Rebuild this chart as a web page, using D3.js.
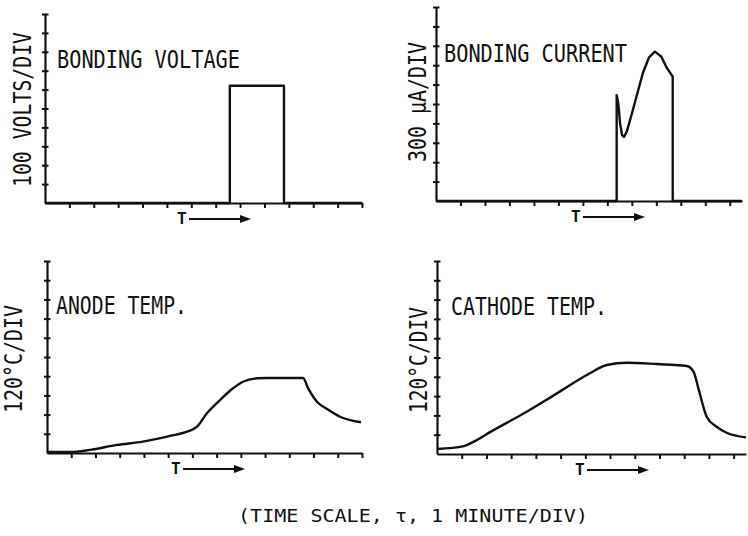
<!DOCTYPE html>
<html>
<head>
<meta charset="utf-8">
<script src="https://cdn.jsdelivr.net/npm/d3@7"></script>
<style>
  body { margin: 0; background: #fff; }
  svg text { font-family: "DejaVu Sans Mono", monospace; fill: #111; }
</style>
</head>
<body>
<svg id="chart" width="748" height="536"></svg>
<script>
// time in divisions (1 minute/div), signal in vertical divisions
const voltageT = [0, 7.58, 7.58, 9.8, 9.8, 13];
const voltageV = [0, 0, 6.2, 6.2, 0, 0];

const currentT = [0, 7.38, 7.38, 7.45, 7.52, 7.6, 7.68, 7.8, 8.0, 8.45, 8.7, 8.94, 9.2, 9.43, 9.67, 9.67, 12.5];
const currentV = [0, 0, 5.46, 5.0, 4.0, 3.4, 3.3, 3.6, 4.5, 6.6, 7.4, 7.7, 7.45, 6.86, 6.41, 0, 0];

const anodeT = [0, 0.95, 1.77, 2.89, 3.96, 5.08, 5.78, 6.19, 6.6, 7.14, 7.68, 8.09, 8.67, 9.08, 10.57, 10.77, 11.14, 11.56, 12.09, 12.96];
const anodeV = [0.05, 0.05, 0.16, 0.42, 0.59, 0.89, 1.11, 1.37, 2.07, 2.76, 3.37, 3.71, 3.89, 3.91, 3.91, 3.39, 2.67, 2.29, 1.89, 1.6];

const cathodeT = [0, 1.09, 1.49, 2.18, 3.52, 4.85, 6.06, 6.87, 7.68, 8.89, 10.1, 10.38, 10.59, 10.91, 11.31, 11.72, 12.5];
const cathodeV = [0.26, 0.41, 0.64, 1.16, 2.11, 3.14, 4.09, 4.61, 4.73, 4.66, 4.56, 4.26, 3.32, 1.93, 1.41, 1.1, 0.86];

const titles = ["BONDING VOLTAGE", "BONDING CURRENT", "ANODE TEMP.", "CATHODE TEMP."];
const yLabels = ["100 VOLTS/DIV", "300 \u00b5A/DIV", "120\u00b0C/DIV", "120\u00b0C/DIV"];
const caption = "(TIME SCALE, \u03c4, 1 MINUTE/DIV)";

const svg = d3.select("#chart");

// layout of the four scope traces
const panels = [
  { t: voltageT, v: voltageV, x0: 45, x1: 362, xmax: 13, yBase: 203, yTop: 14, curve: d3.curveLinear,
    title: { x: 57, y: 68, len: 183 }, ylab: { x: 31, y0: 187, y1: 32 }, tx: 132 },
  { t: currentT, v: currentV, x0: 436, x1: 742, xmax: 12.5, yBase: 201, yTop: 7, curve: d3.curveLinear,
    title: { x: 444, y: 62, len: 183 }, ylab: { x: 426, y0: 162, y1: 42 }, tx: 135 },
  { t: anodeT, v: anodeV, x0: 47, x1: 362, xmax: 13, yBase: 453, yTop: 261, curve: d3.curveMonotoneX,
    title: { x: 56, y: 314, len: 131 }, ylab: { x: 22, y0: 413, y1: 305 }, tx: 124 },
  { t: cathodeT, v: cathodeV, x0: 437, x1: 746, xmax: 12.5, yBase: 454, yTop: 261, curve: d3.curveMonotoneX,
    title: { x: 451, y: 315, len: 156 }, ylab: { x: 427, y0: 413, y1: 307 }, tx: 138 }
];

panels.forEach((p, i) => {
  const x = d3.scaleLinear().domain([0, p.xmax]).range([p.x0, p.x1]);
  const y = d3.scaleLinear().domain([0, 10]).range([p.yBase, p.yTop]);

  // x axis, ticks pointing down
  const xAxis = d3.axisBottom(x)
    .tickValues(d3.range(1, Math.floor(p.xmax) + 1))
    .tickSize(5).tickSizeOuter(0).tickFormat("");
  const gx = svg.append("g")
    .attr("transform", `translate(0,${p.yBase})`)
    .call(xAxis);
  gx.select(".domain").attr("stroke", "#111").attr("stroke-width", 2.2);
  gx.selectAll(".tick line").attr("stroke", "#111").attr("stroke-width", 2);

  // y axis, ticks crossing the line
  const yAxis = d3.axisLeft(y)
    .tickValues(d3.range(1, 11))
    .tickSize(3).tickSizeOuter(0).tickFormat("");
  const gy = svg.append("g")
    .attr("transform", `translate(${p.x0},0)`)
    .call(yAxis);
  gy.select(".domain").attr("stroke", "#111").attr("stroke-width", 2.2);
  gy.selectAll(".tick line").attr("x2", -3).attr("x1", 3.5)
    .attr("stroke", "#111").attr("stroke-width", 2);

  // trace
  const pts = p.t.map((d, k) => [d, p.v[k]]);
  const line = d3.line().x(d => x(d[0])).y(d => y(d[1])).curve(p.curve);
  svg.append("path")
    .datum(pts)
    .attr("d", line)
    .attr("fill", "none")
    .attr("stroke", "#111")
    .attr("stroke-width", 2.4)
    .attr("stroke-linejoin", "round");

  // panel title
  svg.append("text")
    .attr("x", p.title.x).attr("y", p.title.y)
    .attr("font-size", 25)
    .attr("textLength", p.title.len)
    .attr("lengthAdjust", "spacingAndGlyphs")
    .text(titles[i]);

  // rotated y label
  svg.append("text")
    .attr("transform", `translate(${p.ylab.x},${p.ylab.y0}) rotate(-90)`)
    .attr("font-size", 24)
    .attr("textLength", p.ylab.y0 - p.ylab.y1)
    .attr("lengthAdjust", "spacingAndGlyphs")
    .text(yLabels[i]);

  // "T ->" time marker
  const tx = p.x0 + p.tx;
  svg.append("text")
    .attr("x", tx).attr("y", p.yBase + 21)
    .attr("font-size", 16)
    .attr("font-weight", "bold")
    .text("T");
  svg.append("line")
    .attr("x1", tx + 12).attr("x2", tx + 66)
    .attr("y1", p.yBase + 16).attr("y2", p.yBase + 16)
    .attr("stroke", "#111").attr("stroke-width", 1.8);
  svg.append("path")
    .attr("d", `M${tx + 74},${p.yBase + 16} l-11,-4 l0,8 z`)
    .attr("fill", "#111");
});

svg.append("text")
  .attr("x", 238).attr("y", 522)
  .attr("font-size", 18)
  .attr("textLength", 350)
  .attr("lengthAdjust", "spacingAndGlyphs")
  .text(caption);
</script>
</body>
</html>
